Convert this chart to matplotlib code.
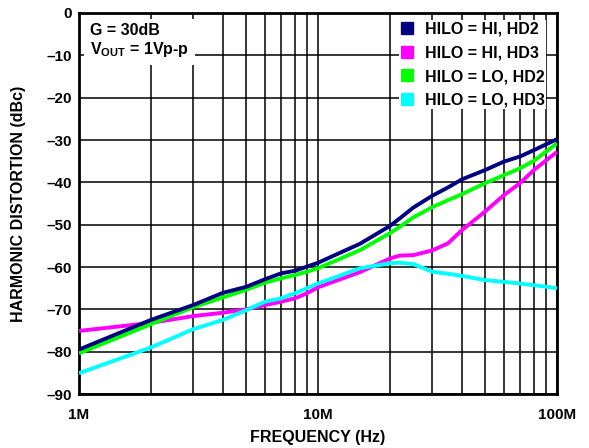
'''Harmonic distortion vs frequency'''

import matplotlib
matplotlib.use('Agg')
import matplotlib.pyplot as plt
from matplotlib.ticker import FixedLocator, NullFormatter

plt.rcParams['font.family'] = ['Liberation Sans', 'DejaVu Sans']
plt.rcParams['font.weight'] = 'bold'
plt.rcParams['mathtext.fontset'] = 'custom'
plt.rcParams['mathtext.rm'] = 'Liberation Sans:bold'
plt.rcParams['mathtext.bf'] = 'Liberation Sans:bold'

# Data (frequency in Hz, distortion in dBc)
freq = [1e6, 2e6, 3e6, 4e6, 5e6, 6e6, 7e6, 8e6, 9e6, 10e6,
        15e6, 20e6, 22e6, 25e6, 30e6, 35e6, 40e6, 50e6, 60e6, 70e6, 80e6, 100e6]

hi_hd2 = [-79.5, -72.5, -69.0, -66.1, -64.7, -62.9, -61.5, -60.9, -59.9, -59.0,
          -54.5, -50.3, -48.5, -46.0, -43.2, -41.2, -39.3, -37.1, -35.1, -33.9, -32.4, -29.8]
hi_hd3 = [-75.1, -73.2, -71.6, -70.8, -70.0, -69.0, -68.2, -67.4, -66.2, -64.8,
          -61.2, -58.0, -57.3, -57.2, -56.1, -54.4, -51.3, -46.9, -43.0, -40.2, -37.1, -32.8]
lo_hd2 = [-80.4, -73.5, -69.5, -67.2, -65.4, -63.7, -62.7, -61.9, -61.1, -60.3,
          -56.0, -52.0, -50.5, -48.3, -45.9, -44.2, -42.8, -40.2, -38.3, -36.7, -34.9, -30.8]
lo_hd3 = [-85.1, -79.0, -74.7, -72.5, -70.2, -68.2, -67.4, -66.2, -65.0, -63.9,
          -60.3, -59.1, -59.0, -59.3, -61.1, -61.6, -62.1, -63.1, -63.5, -63.9, -64.3, -65.0]

labels = ['HILO = HI, HD2', 'HILO = HI, HD3', 'HILO = LO, HD2', 'HILO = LO, HD3']
colors = ['#000080', '#ff00ff', '#00ff00', '#00ffff']

xticks = [1e6, 10e6, 100e6]
xticklabels = ['1M', '10M', '100M']
yticks = list(range(-90, 1, 10))

fig = plt.figure(figsize=(5.89, 4.48), dpi=100)
ax = fig.add_axes([79 / 589, 1 - 394 / 448, (557 - 79) / 589, (394 - 13) / 448])

series = [hi_hd2, hi_hd3, lo_hd2, lo_hd3]
# draw order: magenta and cyan under the HD2 curves
for idx in [1, 3, 2, 0]:
    ax.plot(freq, series[idx], color=colors[idx], lw=2.8, zorder=3,
            solid_capstyle='butt')

ax.set_xscale('log')
ax.set_xlim(1e6, 100e6)
ax.set_ylim(-90, 0)
ax.set_xticks(xticks)
ax.set_xticklabels(xticklabels)
ax.xaxis.set_minor_locator(FixedLocator([m * d for d in (1e6, 1e7) for m in range(2, 10)]))
ax.xaxis.set_minor_formatter(NullFormatter())
ax.set_yticks(yticks)
ax.set_yticklabels([('\u2013' + str(-v)) if v < 0 else '0' for v in yticks])
ax.tick_params(which='both', length=0, labelsize=11)
ax.tick_params(axis='x', pad=10)
ax.tick_params(axis='y', pad=5)
ax.grid(True, which='both', color='black', lw=1.1, zorder=1)
for sp in ax.spines.values():
    sp.set_linewidth(2.0)

ax.set_xlabel('FREQUENCY (Hz)', fontsize=11.5, fontweight='bold', labelpad=6)
ax.set_ylabel('HARMONIC DISTORTION (dBc)', fontsize=11.5, fontweight='bold', labelpad=15)

ax.text(0.023, 0.975, 'G = 30dB\nV$_{\\mathrm{OUT}}$ = 1Vp-p', transform=ax.transAxes,
        fontsize=11.5, fontweight='bold', va='top', ha='left', linespacing=1.2,
        bbox=dict(facecolor='white', edgecolor='none', pad=4), zorder=5)

handles = [plt.Line2D([], [], ls='none', marker='s', ms=8.6, color=c) for c in colors]
leg = ax.legend(handles, labels, loc='upper right', bbox_to_anchor=(0.978, 0.982),
                fontsize=11.5, frameon=True, fancybox=False, borderpad=0.1,
                handletextpad=0.7, labelspacing=0.55, borderaxespad=0.0,
                handlelength=0.8)
leg.get_frame().set_edgecolor('none')
leg.get_frame().set_facecolor('white')
leg.get_frame().set_alpha(1)
leg.set_zorder(5)
for t in leg.get_texts():
    t.set_fontweight('bold')

fig.savefig('out.png', dpi=100)
